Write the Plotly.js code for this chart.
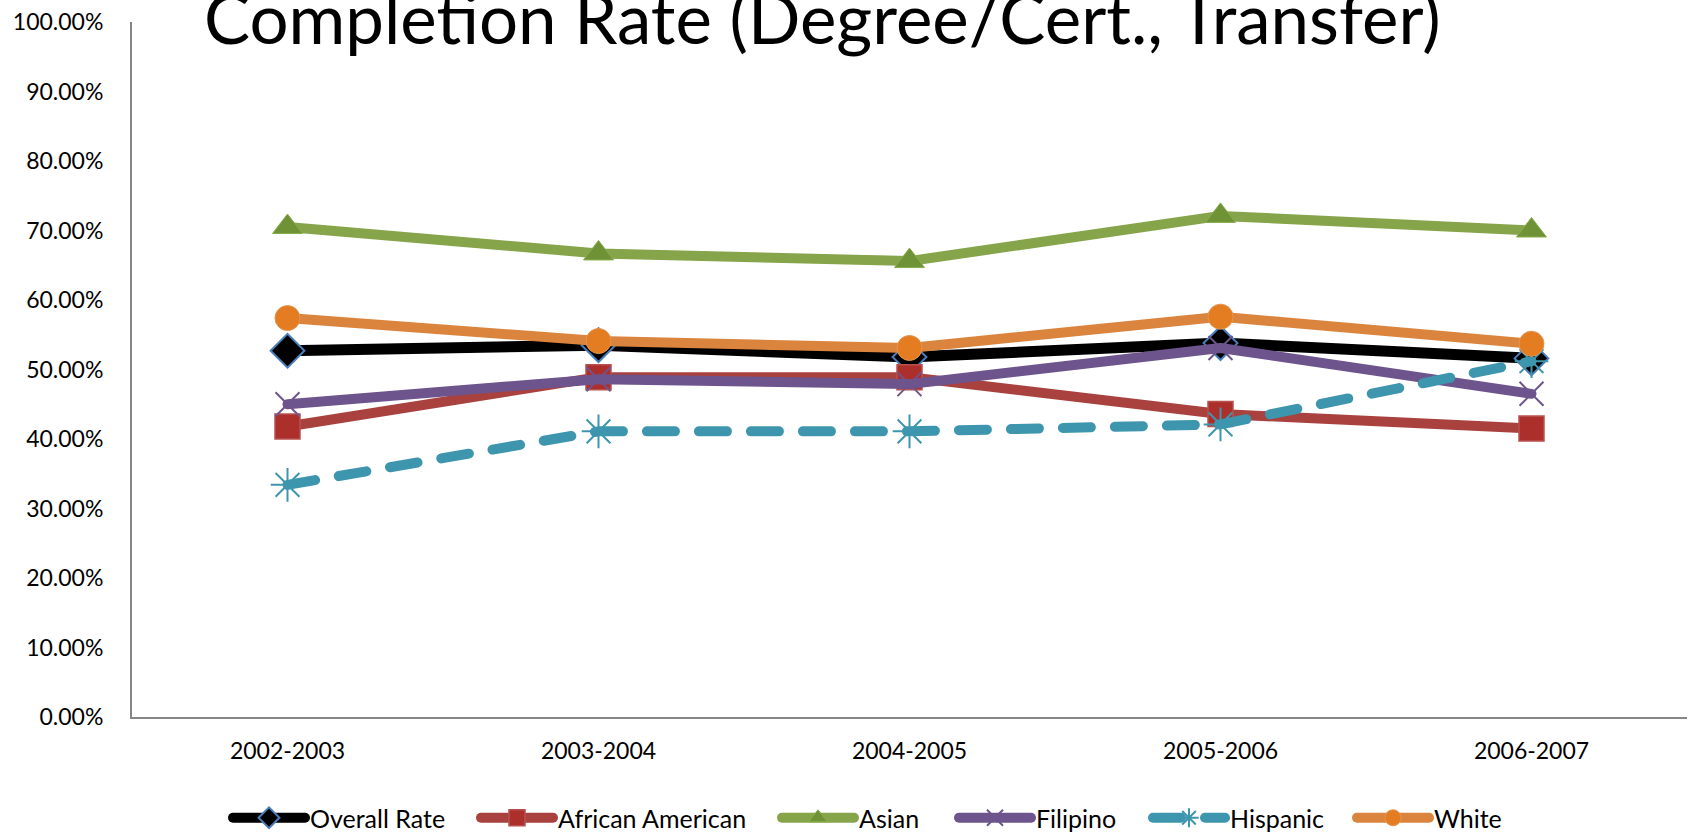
<!DOCTYPE html>
<html>
<head>
<meta charset="utf-8">
<script src="https://cdn.plot.ly/plotly-3.0.1.min.js"></script>
<style>
html,body{margin:0;padding:0;background:#fff;}
#chart{width:1692px;height:833px;}
</style>
</head>
<body>
<div id="chart"></div>
<script>
// ---- data ----
const years = ["2002-2003", "2003-2004", "2004-2005", "2005-2006", "2006-2007"];
const overallRate = [0.527, 0.535, 0.518, 0.538, 0.516];
const africanAmerican = [0.418, 0.489, 0.489, 0.436, 0.415];
const asian = [0.705, 0.667, 0.656, 0.721, 0.700];
const filipino = [0.450, 0.486, 0.479, 0.531, 0.465];
const hispanic = [0.334, 0.411, 0.411, 0.421, 0.512];
const white = [0.574, 0.541, 0.531, 0.576, 0.537];
const seriesNames = ["Overall Rate", "African American", "Asian", "Filipino", "Hispanic", "White"];
const yTickVals = [0, 0.1, 0.2, 0.3, 0.4, 0.5, 0.6, 0.7, 0.8, 0.9, 1.0];

const FONT = "Lato, Carlito, 'Open Sans', sans-serif";
const LW = 10;
// legend entry left positions (container fraction)
const legendX = [228, 476, 777, 954, 1148, 1352].map(function(v){ return v / 1692; });
const legendIds = ["legend", "legend2", "legend3", "legend4", "legend5", "legend6"];

function tr(i, y, lineColor, lw, marker, dash) {
  return {
    type: "scatter", mode: "lines+markers", name: seriesNames[i],
    legend: legendIds[i],
    x: years, y: y,
    line: {color: lineColor, width: lw, dash: dash || "solid"},
    marker: marker,
    hoverinfo: "skip"
  };
}

const data = [
  tr(0, overallRate, "#000000", 11,
     {symbol: "diamond", size: 26, color: "#000000", line: {color: "#4a7ebb", width: 2}}),
  tr(1, africanAmerican, "#a9413e", LW,
     {symbol: "square", size: 25, color: "#ad2f2c", line: {color: "#b8514e", width: 1.5}}),
  tr(2, asian, "#86a44a", LW,
     {symbol: "triangle-up", size: 26, color: "#6f9236", line: {color: "#88ad4a", width: 1}}),
  tr(3, filipino, "#6e548d", LW,
     {symbol: "x-thin-open", size: 24, color: "#6e548d", line: {color: "#6e548d", width: 2}}),
  tr(4, hispanic, "#3d96ae", LW,
     {symbol: "asterisk-open", size: 28, color: "#3d96ae", line: {color: "#3d96ae", width: 2}}, "28px,24px"),
  tr(5, white, "#db843d", LW,
     {symbol: "circle", size: 25, color: "#e47d22", line: {color: "#e49550", width: 1}})
];

function legendSpec(i) {
  return {
    orientation: "h", xref: "container", yref: "container",
    x: legendX[i], xanchor: "left", y: 0.018, yanchor: "middle",
    font: {family: FONT, size: 25, color: "#000000"},
    itemwidth: 72, itemsizing: "trace",
    bgcolor: "rgba(0,0,0,0)", borderwidth: 0
  };
}

const layout = {
  width: 1692, height: 833,
  paper_bgcolor: "#ffffff", plot_bgcolor: "#ffffff",
  font: {family: FONT, size: 23, color: "#000000"},
  margin: {l: 132, r: 5, t: 22, b: 116, pad: 0},
  title: {
    text: "Completion Rate (Degree/Cert., Transfer)",
    font: {family: FONT, size: 69, color: "#000000"},
    x: 0.486, xref: "container", xanchor: "center",
    y: 0.947, yref: "container", yanchor: "bottom"
  },
  xaxis: {
    type: "category", range: [-0.5, 4.5],
    showline: true, linecolor: "#868686", linewidth: 2,
    showgrid: false, zeroline: false, ticks: "",
    tickfont: {family: FONT, size: 23, color: "#000000"},
    ticklabelstandoff: 12
  },
  yaxis: {
    range: [0, 1], tickvals: yTickVals, tickformat: ".2%",
    showline: true, linecolor: "#868686", linewidth: 2,
    showgrid: false, zeroline: false, ticks: "",
    tickfont: {family: FONT, size: 23, color: "#000000"},
    ticklabelstandoff: 22
  },
  showlegend: true,
  hovermode: false
};
legendIds.forEach(function(id, i){ layout[id] = legendSpec(i); });

Plotly.newPlot("chart", data, layout, {displayModeBar: false, staticPlot: true}).then(function(gd) {
  gd.querySelectorAll("path.js-line").forEach(function(p) {
    p.style.strokeLinecap = "round";
    p.style.strokeLinejoin = "round";
  });
  gd.querySelectorAll("g.legendlines path").forEach(function(p) {
    p.style.strokeLinecap = "round";
    p.style.strokeWidth = "10px";
  });
});
</script>
</body>
</html>
